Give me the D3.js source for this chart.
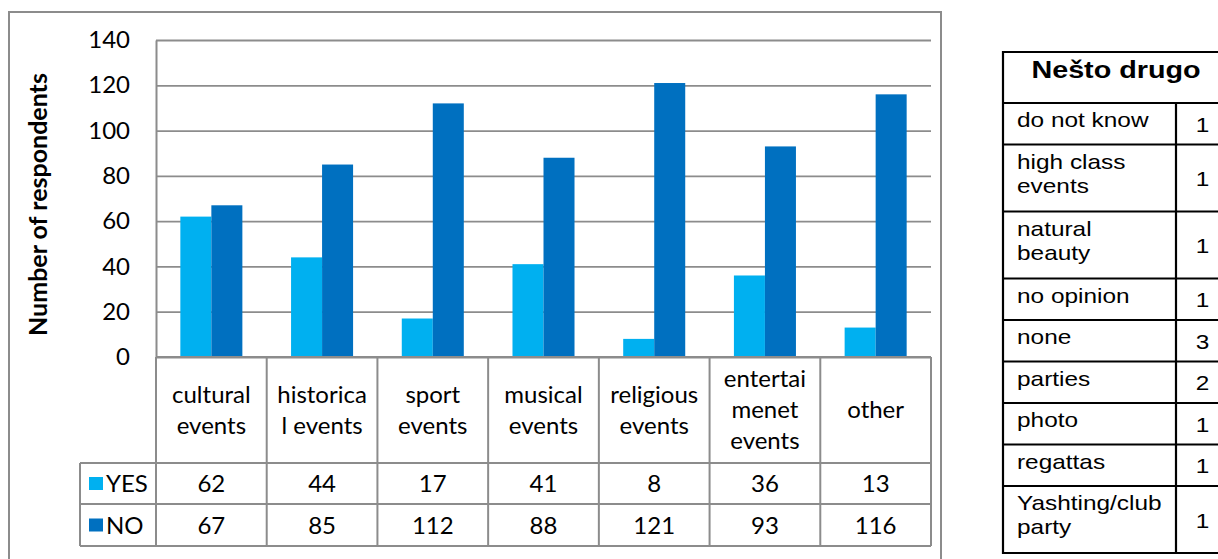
<!DOCTYPE html>
<html><head><meta charset="utf-8">
<script src="https://cdn.jsdelivr.net/npm/d3@7"></script>
<style>body{margin:0;background:#fff} svg{display:block}</style>
</head><body><svg id="c" width="1218" height="559"></svg>
<script>
// ---- data ----
const categories = ["cultural events", "historical events", "sport events", "musical events", "religious events", "entertaimenet events", "other"];
const categoryLabelLines = [["cultural", "events"], ["historica", "l events"], ["sport", "events"], ["musical", "events"], ["religious", "events"], ["entertai", "menet", "events"], ["other"]];
const seriesNames = ["YES", "NO"];
const yesValues = [62, 44, 17, 41, 8, 36, 13];
const noValues = [67, 85, 112, 88, 121, 93, 116];
const yTicks = [0, 20, 40, 60, 80, 100, 120, 140];
const yAxisTitle = "Number of respondents";
const otherTitle = "Nešto drugo";
const otherLabels = ["do not know", "high class events", "natural beauty", "no opinion", "none", "parties", "photo", "regattas", "Yashting/club party"];
const otherLabelLines = [["do not know"], ["high class", "events"], ["natural", "beauty"], ["no opinion"], ["none"], ["parties"], ["photo"], ["regattas"], ["Yashting/club", "party"]];
const otherCounts = [1, 1, 1, 1, 3, 2, 1, 1, 1];

// ---- styles ----
const colors = {YES: "#00B0F0", NO: "#0070C0"};
const gray = "#8c8c8c";
const mainFont = "Lato, 'Open Sans', sans-serif";
const tableFont = "'Liberation Sans', Arial, sans-serif";

const svg = d3.select("#c");
const L = 156, R = 931, T = 40, B = 357;
const catRowBottom = 463, yesRowBottom = 504, noRowBottom = 546, legendLeft = 80;

// outer frame
svg.append("rect").attr("x", 9).attr("y", 12).attr("width", 932).attr("height", 570)
  .attr("fill", "#fff").attr("stroke", gray).attr("stroke-width", 2);

const y = d3.scaleLinear().domain([0, 140]).range([B, T]);
const x = d3.scaleBand().domain(categories).range([L, R]).paddingInner(0).paddingOuter(0);
const xs = d3.scaleBand().domain(seriesNames).range([0, x.bandwidth()]).paddingInner(0).paddingOuter(0.785);

// y axis with gridlines
const yAxis = d3.axisLeft(y).tickValues(yTicks).tickSize(-(R - L)).tickSizeOuter(0).tickPadding(26);
const gy = svg.append("g").attr("transform", `translate(${L},0)`).call(yAxis);
gy.select(".domain").attr("stroke", gray).attr("stroke-width", 2);
gy.selectAll(".tick line").attr("stroke", gray).attr("stroke-width", 1.8);
gy.selectAll(".tick text").attr("font-family", mainFont).attr("font-size", 24).attr("fill", "#000");

// y axis title
svg.append("text").attr("transform", `translate(47,${(T + B) / 2 + 6}) rotate(-90)`)
  .attr("text-anchor", "middle").attr("font-family", mainFont).attr("font-weight", "bold")
  .attr("font-size", 25).attr("fill", "#000").text(yAxisTitle);

// bars
const seriesValues = {YES: yesValues, NO: noValues};
const barData = [];
categories.forEach((c, i) => seriesNames.forEach(s => barData.push({c, s, v: seriesValues[s][i]})));
svg.append("g").selectAll("rect").data(barData).join("rect")
  .attr("x", d => x(d.c) + xs(d.s)).attr("width", xs.bandwidth())
  .attr("y", d => y(d.v)).attr("height", d => y(0) - y(d.v))
  .attr("fill", d => colors[d.s]);

// data table
const tg = svg.append("g");
const line = (x1, y1, x2, y2) => tg.append("line").attr("x1", x1).attr("y1", y1).attr("x2", x2).attr("y2", y2)
  .attr("stroke", gray).attr("stroke-width", 2);
line(L, B, R, B);
[catRowBottom, yesRowBottom, noRowBottom].forEach(yy => line(legendLeft, yy, R, yy));
line(legendLeft, catRowBottom, legendLeft, noRowBottom);
categories.forEach(c => line(x(c), B, x(c), noRowBottom));
line(R, B, R, noRowBottom);

// category labels
const catMid = (B + catRowBottom) / 2, lh = 31;
categories.forEach((c, i) => {
  const lines = categoryLabelLines[i];
  const t = tg.append("text").attr("text-anchor", "middle").attr("font-family", mainFont)
    .attr("font-size", 24).attr("fill", "#000");
  lines.forEach((ln, j) => {
    t.append("tspan").attr("x", x(c) + x.bandwidth() / 2)
      .attr("y", catMid - (lines.length - 1) * lh / 2 + j * lh + 8).text(ln);
  });
});

// value rows
const rowBounds = {YES: [catRowBottom, yesRowBottom], NO: [yesRowBottom, noRowBottom]};
seriesNames.forEach(s => {
  const [r0, r1] = rowBounds[s];
  const mid = (r0 + r1) / 2;
  tg.append("rect").attr("x", 89).attr("y", mid - 6.5).attr("width", 14).attr("height", 13).attr("fill", colors[s]);
  tg.append("text").attr("x", 106).attr("y", mid + 8.5).attr("font-family", mainFont).attr("font-size", 24)
    .attr("fill", "#000").text(s);
  categories.forEach((c, i) => {
    tg.append("text").attr("x", x(c) + x.bandwidth() / 2).attr("y", mid + 8.5)
      .attr("text-anchor", "middle").attr("font-family", mainFont).attr("font-size", 24)
      .attr("fill", "#000").text(seriesValues[s][i]);
  });
});

// ---- right table "Nešto drugo" ----
const TL = 1003, TS = 1176, TR = 1229, TT = 52, TH = 103;
const sx = 1.22;
const rg = svg.append("g");
const rowH = lines => 41.5 + 25.5 * (lines - 1);
let yy = TH;
const rows = otherLabels.map((lab, i) => {
  const h = rowH(otherLabelLines[i].length);
  const r = {top: yy, bottom: yy + h, lines: otherLabelLines[i], count: otherCounts[i]};
  yy += h;
  return r;
});
const bl = (x1, y1, x2, y2) => rg.append("line").attr("x1", x1).attr("y1", y1).attr("x2", x2).attr("y2", y2)
  .attr("stroke", "#000").attr("stroke-width", 2.2);
bl(TL, TT, TR, TT);
bl(TL, TH, TR, TH);
rows.forEach(r => bl(TL, r.bottom, TR, r.bottom));
bl(TL, TT - 1.1, TL, yy + 1.1);
bl(TR, TT - 1.1, TR, yy + 1.1);
bl(TS, TH, TS, yy);

rg.append("text").attr("transform", `translate(${(TL + TR) / 2},78) scale(1.25,1)`)
  .attr("text-anchor", "middle").attr("font-family", tableFont).attr("font-weight", "bold")
  .attr("font-size", 23).attr("fill", "#000").text(otherTitle);

rows.forEach(r => {
  r.lines.forEach((ln, j) => {
    rg.append("text").attr("transform", `translate(1017,${r.top + 24 + j * 24}) scale(${sx},1)`)
      .attr("font-family", tableFont).attr("font-size", 20).attr("fill", "#000").text(ln);
  });
  rg.append("text").attr("transform", `translate(${(TS + TR) / 2},${(r.top + r.bottom) / 2 + 8}) scale(${sx},1)`)
    .attr("text-anchor", "middle").attr("font-family", tableFont).attr("font-size", 20).attr("fill", "#000").text(r.count);
});
</script></body></html>
